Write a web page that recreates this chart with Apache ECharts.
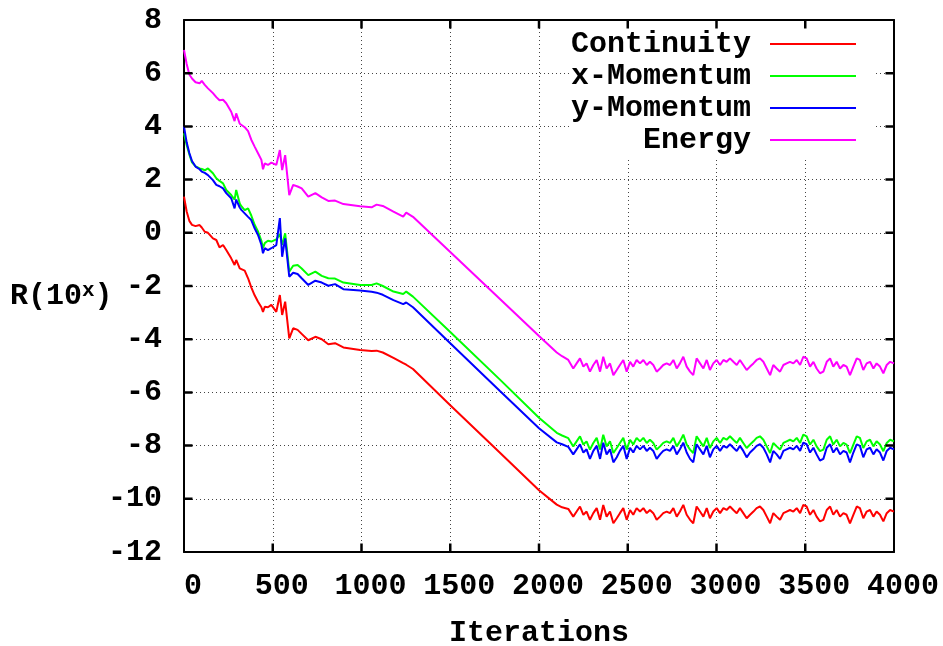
<!DOCTYPE html>
<html><head><meta charset="utf-8">
<script src="https://cdn.jsdelivr.net/npm/echarts@6/dist/echarts.min.js"></script>
<style>html,body{margin:0;padding:0;background:#fff}#c{width:943px;height:646px}</style>
</head><body><div id="c"></div>
<script>
const iterations = [0,15,30,45,65,88,100,117,135,145,163,182,200,220,238,266,285,294,314,323,342,361,379,398,417,436,445,455,473,492,520,540,553,570,593,615,640,663,700,740,776,813,851,898,992,1057,1085,1120,1180,1235,1252,1290,1500,1780,2000,2100,2130,2165,
2193,2212,2231,2250,2268,2287,2306,2325,2344,2362,2381,2400,2419,2438,2456,2475,2494,2513,2531,2550,2569,2588,2607,2625,2644,2663,2682,2700,2719,2738,2757,2776,2794,2813,2832,2851,2869,2888,2907,2926,2945,2963,
2982,3001,3020,3039,3057,3076,3095,3114,3132,3151,3170,3189,3208,3226,3245,3264,3283,3302,3320,3339,3358,3377,3395,3414,3433,3452,3471,3489,3508,3527,3546,3564,3583,3602,3621,3640,3658,3677,3696,3715,3733,3752,3771,3790,3808,3827,3846,3865,3884,3902,3921,3940,3959,3978,4000];

const continuity = [1.36,0.80,0.45,0.30,0.25,0.29,0.20,0.04,0.00,-0.02,
-0.21,-0.27,-0.55,-0.46,-0.65,-0.96,-1.21,-1.02,-1.34,-1.38,
-1.42,-1.71,-2.05,-2.35,-2.59,-2.80,-2.97,-2.78,-2.80,-2.71,
-2.97,-2.34,-3.09,-2.59,-3.97,-3.59,-3.65,-3.80,-4.04,-3.91,
-4.00,-4.19,-4.15,-4.31,-4.41,-4.44,-4.43,-4.50,-4.70,-4.90,
-4.96,-5.12,-6.48,-8.27,-9.68,-10.22,-10.32,-10.38,
-10.67,-10.48,-10.29,-10.60,-10.48,-10.79,-10.54,-10.35,-10.79,-10.23,
-10.67,-10.48,-10.92,-10.73,-10.54,-10.35,-10.79,-10.42,-10.60,-10.35,
-10.48,-10.35,-10.54,-10.42,-10.54,-10.79,-10.67,-10.54,-10.48,-10.54,
-10.35,-10.67,-10.48,-10.23,-10.60,-10.79,-10.92,-10.29,-10.48,-10.67,
-10.35,-10.73,
-10.48,-10.35,-10.54,-10.35,-10.42,-10.29,-10.42,-10.54,-10.35,-10.54,
-10.73,-10.60,-10.48,-10.35,-10.29,-10.42,-10.67,-10.92,-10.54,-10.67,
-10.79,-10.54,-10.48,-10.42,-10.48,-10.35,-10.54,-10.23,-10.29,-10.60,
-10.42,-10.67,-10.85,-10.79,-10.42,-10.29,-10.60,-10.42,-10.67,-10.54,
-10.60,-10.92,-10.60,-10.29,-10.35,-10.73,-10.48,-10.42,-10.67,-10.48,
-10.60,-10.85,-10.54,-10.42,-10.48];

const xMomentum = [3.74,3.30,2.95,2.65,2.50,2.42,2.40,2.35,2.42,2.49,
2.24,2.05,1.95,1.86,1.61,1.42,1.25,1.61,1.10,1.00,
0.85,0.92,0.65,0.30,0.05,-0.30,-0.58,-0.39,-0.30,-0.33,
-0.25,-0.05,-0.45,-0.02,-1.46,-1.24,-1.21,-1.34,-1.59,-1.46,
-1.62,-1.71,-1.72,-1.87,-1.96,-1.96,-1.90,-2.00,-2.21,-2.30,
-2.21,-2.40,-3.73,-5.52,-6.95,-7.52,-7.62,-7.72,
-8.03,-7.84,-7.65,-7.96,-7.84,-8.15,-7.90,-7.71,-8.15,-7.59,
-8.03,-7.84,-8.28,-8.09,-7.90,-7.71,-8.15,-7.78,-7.96,-7.71,
-7.84,-7.71,-7.90,-7.78,-7.90,-8.15,-8.03,-7.90,-7.84,-7.90,
-7.71,-8.03,-7.84,-7.59,-7.96,-8.15,-8.28,-7.65,-7.84,-8.03,
-7.71,-8.09,
-7.84,-7.71,-7.90,-7.71,-7.78,-7.65,-7.78,-7.90,-7.71,-7.90,
-8.09,-7.96,-7.84,-7.71,-7.65,-7.78,-8.03,-8.28,-7.90,-8.03,
-8.15,-7.90,-7.84,-7.78,-7.84,-7.71,-7.90,-7.59,-7.65,-7.96,
-7.78,-8.03,-8.21,-8.15,-7.78,-7.65,-7.96,-7.78,-8.03,-7.90,
-7.96,-8.28,-7.96,-7.65,-7.71,-8.09,-7.84,-7.78,-8.03,-7.84,
-7.96,-8.21,-7.90,-7.78,-7.84];

const yMomentum = [3.99,3.40,3.00,2.70,2.49,2.39,2.30,2.25,2.17,2.15,
1.98,1.80,1.75,1.67,1.49,1.30,0.92,1.25,0.95,0.86,
0.73,0.60,0.48,0.17,-0.08,-0.45,-0.77,-0.58,-0.65,-0.58,
-0.46,0.55,-0.90,-0.21,-1.65,-1.50,-1.55,-1.71,-1.96,-1.80,
-1.87,-1.99,-1.93,-2.12,-2.17,-2.22,-2.25,-2.33,-2.53,-2.68,
-2.62,-2.80,-4.15,-5.95,-7.35,-7.88,-7.95,-8.05,
-8.33,-8.14,-7.95,-8.26,-8.14,-8.50,-8.20,-8.01,-8.50,-7.89,
-8.33,-8.14,-8.63,-8.44,-8.20,-8.01,-8.50,-8.08,-8.26,-8.01,
-8.14,-8.01,-8.20,-8.08,-8.20,-8.50,-8.33,-8.20,-8.14,-8.20,
-8.01,-8.33,-8.14,-7.89,-8.26,-8.50,-8.63,-7.95,-8.14,-8.33,
-8.01,-8.44,
-8.14,-8.01,-8.20,-8.01,-8.08,-7.95,-8.08,-8.20,-8.01,-8.20,
-8.44,-8.26,-8.14,-8.01,-7.95,-8.08,-8.33,-8.63,-8.20,-8.33,
-8.50,-8.20,-8.14,-8.08,-8.14,-8.01,-8.20,-7.89,-7.95,-8.26,
-8.08,-8.33,-8.56,-8.50,-8.08,-7.95,-8.26,-8.08,-8.33,-8.20,
-8.26,-8.63,-8.26,-7.95,-8.01,-8.44,-8.14,-8.08,-8.33,-8.14,
-8.26,-8.56,-8.20,-8.08,-8.14];

const energy = [6.87,6.35,5.95,5.80,5.66,5.62,5.71,5.56,5.43,5.38,
5.25,5.10,4.98,5.00,4.87,4.55,4.20,4.49,4.10,4.05,
3.97,3.82,3.50,3.24,2.99,2.74,2.39,2.61,2.55,2.64,
2.55,3.11,2.36,2.92,1.42,1.80,1.74,1.67,1.36,1.49,
1.33,1.20,1.21,1.08,1.00,0.96,1.06,1.01,0.80,0.61,
0.76,0.60,-0.72,-2.49,-3.88,-4.50,-4.64,-4.78,
-5.10,-4.91,-4.72,-5.03,-4.91,-5.22,-4.97,-4.78,-5.22,-4.66,
-5.10,-4.91,-5.35,-5.16,-4.97,-4.78,-5.22,-4.85,-5.03,-4.78,
-4.91,-4.78,-4.97,-4.85,-4.97,-5.22,-5.10,-4.97,-4.91,-4.97,
-4.78,-5.10,-4.91,-4.66,-5.03,-5.22,-5.35,-4.72,-4.91,-5.10,
-4.78,-5.16,
-4.91,-4.78,-4.97,-4.78,-4.85,-4.72,-4.85,-4.97,-4.78,-4.97,
-5.16,-5.03,-4.91,-4.78,-4.72,-4.85,-5.10,-5.35,-4.97,-5.10,
-5.22,-4.97,-4.91,-4.85,-4.91,-4.78,-4.97,-4.66,-4.72,-5.03,
-4.85,-5.10,-5.28,-5.22,-4.85,-4.72,-5.03,-4.85,-5.10,-4.97,
-5.03,-5.35,-5.03,-4.72,-4.78,-5.16,-4.91,-4.85,-5.10,-4.91,
-5.03,-5.28,-4.97,-4.85,-4.91];

const seriesNames = ['Continuity', 'x-Momentum', 'y-Momentum', 'Energy'];
const seriesColors = ['#ff0000', '#00ff00', '#0000ff', '#ff00ff'];
const xRange = {min: 0, max: 4000, step: 500};
const yRange = {min: -12, max: 8, step: 2};
const xTickValues = [500, 1000, 1500, 2000, 2500, 3000, 3500];
const yTickValues = [-10, -8, -6, -4, -2, 0, 2, 4, 6];
const xTitle = 'Iterations';

const font = "'Liberation Mono', 'DejaVu Sans Mono', monospace";
const fs = 30;
const seriesValues = [continuity, xMomentum, yMomentum, energy];

const chart = echarts.init(document.getElementById('c'));
const aLine = () => ({show: true, onZero: false, lineStyle: {color: '#000', width: 2}});
const gridLine = () => ({show: true, lineStyle: {color: '#444', width: 1, type: [1, 3]}});
const labelStyle = () => ({color: '#000', fontFamily: font, fontWeight: 'bold', fontSize: fs});
const plain = v => String(v);

// tick length expressed through the axis scales (about 8-9 px inward)
const yTickLen = (yRange.max - yRange.min) * 0.016;
const xTickLen = (xRange.max - xRange.min) * 0.012;

function segs(list) {
  const out = [];
  list.forEach(s => { out.push(s[0], s[1], [null, null]); });
  return out;
}
const tickData = segs(
  xTickValues.map(v => [[v, yRange.min], [v, yRange.min + yTickLen]])
  .concat(xTickValues.map(v => [[v, yRange.max], [v, yRange.max - yTickLen]]))
  .concat(yTickValues.map(v => [[xRange.min, v], [xRange.min + xTickLen, v]]))
  .concat(yTickValues.map(v => [[xRange.max, v], [xRange.max - xTickLen, v]]))
);

chart.setOption({
  animation: false,
  backgroundColor: '#fff',
  grid: {left: 184, right: 49, top: 20, bottom: 94, show: false, containLabel: false, outerBoundsMode: 'none'},
  xAxis: [
    {type: 'value', min: xRange.min, max: xRange.max, interval: xRange.step, position: 'bottom',
     axisLine: aLine(), axisTick: {show: false},
     axisLabel: Object.assign({margin: 19, padding: [0, 0, 0, 18], formatter: plain}, labelStyle()),
     splitLine: gridLine(),
     name: xTitle, nameLocation: 'middle', nameGap: 66,
     nameTextStyle: labelStyle()},
    {type: 'value', min: xRange.min, max: xRange.max, interval: xRange.step, position: 'top',
     axisLine: aLine(), axisTick: {show: false}, axisLabel: {show: false}, splitLine: {show: false}}
  ],
  yAxis: [
    {type: 'value', min: yRange.min, max: yRange.max, interval: yRange.step, position: 'left',
     axisLine: aLine(), axisTick: {show: false},
     axisLabel: Object.assign({margin: 22, padding: [6, 0, 0, 0], formatter: plain}, labelStyle()),
     splitLine: gridLine()},
    {type: 'value', min: yRange.min, max: yRange.max, interval: yRange.step, position: 'right',
     axisLine: aLine(), axisTick: {show: false}, axisLabel: {show: false}, splitLine: {show: false}}
  ],
  legend: {
    orient: 'vertical', right: 68, top: 21, align: 'right',
    backgroundColor: '#fff', padding: [7, 19, 1, 2],
    itemWidth: 86, itemHeight: 2, itemGap: 0, icon: 'rect',
    textStyle: Object.assign({lineHeight: 32, padding: [0, 14, 0, 0]}, labelStyle()),
    data: seriesNames
  },
  graphic: [{
    type: 'text', left: 10, top: 280, z: 10,
    style: {
      text: '{a|R(10}{s|x}{a|)}',
      rich: {
        a: {fontFamily: font, fontWeight: 'bold', fontSize: fs, fill: '#000', lineHeight: 32},
        s: {fontFamily: font, fontWeight: 'bold', fontSize: 21, fill: '#000', verticalAlign: 'top', lineHeight: 32}
      }
    }
  }],
  series: seriesNames.map((n, k) => ({
    name: n, type: 'line', showSymbol: false, symbol: 'none',
    xAxisIndex: 0, yAxisIndex: 0,
    color: seriesColors[k],
    lineStyle: {color: seriesColors[k], width: 2},
    data: iterations.map((x, i) => [x, seriesValues[k][i]])
  })).concat([{
    name: 'axis-ticks', type: 'line', showSymbol: false, symbol: 'none', silent: true,
    connectNulls: false, z: 6, xAxisIndex: 0, yAxisIndex: 0,
    lineStyle: {color: '#000', width: 2.5}, itemStyle: {color: '#000'},
    data: tickData
  }])
});
</script></body></html>
